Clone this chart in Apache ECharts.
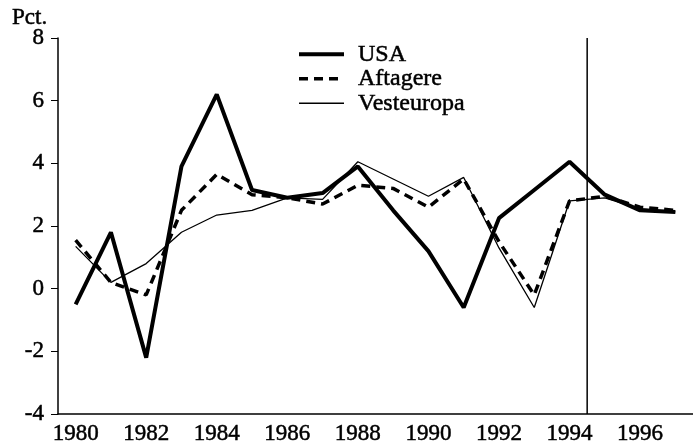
<!DOCTYPE html>
<html>
<head>
<meta charset="utf-8">
<script src="https://cdn.jsdelivr.net/npm/echarts@6/dist/echarts.min.js"></script>
<style>
  html, body { margin: 0; padding: 0; background: #fff; }
  #chart { width: 693px; height: 447px; }
</style>
</head>
<body>
<div id="chart"></div>
<script>
// 年份与三条曲线
const years = ['1980', '1981', '1982', '1983', '1984', '1985', '1986', '1987', '1988',
  '1989', '1990', '1991', '1992', '1993', '1994', '1995', '1996', '1997'];
const usa = [-0.5, 1.8, -2.2, 3.9, 6.2, 3.15, 2.9, 3.05, 3.9, 2.5, 1.2, -0.6, 2.25, 3.15, 4.05, 3.0, 2.5, 2.45];
const aftagere = [1.55, 0.2, -0.2, 2.5, 3.65, 3.0, 2.9, 2.7, 3.3, 3.2, 2.6, 3.5, 1.5, -0.2, 2.8, 2.95, 2.6, 2.5];
const vesteuropa = [1.35, 0.2, 0.8, 1.8, 2.35, 2.5, 2.9, 2.85, 4.05, 3.5, 2.95, 3.55, 1.3, -0.6, 2.8, 2.9, 2.55, 2.45];
const yTicks = [-4, -2, 0, 2, 4, 6, 8];
const forecastFrom = 1994.5; // 竖线：预测开始

window.onload = function () {
  init();
};

function init() {
  const chart = echarts.init(document.getElementById('chart'));
  const font = 'Liberation Serif';
  const ink = '#000';
  const yMin = yTicks[0];
  const yMax = yTicks[yTicks.length - 1];
  // 扫描件的字比较粗，描一圈边
  const heavy = { textBorderColor: ink, textBorderWidth: 0.5 };

  const option = {
    animation: false,
    grid: { left: 58, right: 0, top: 38, bottom: 33 },
    title: {
      text: 'Pct.',
      left: 12, top: 6, padding: 0,
      textStyle: Object.assign({ fontFamily: font, fontSize: 23, fontWeight: 'normal', color: ink }, heavy),
    },
    legend: {
      orient: 'vertical',
      left: 297, top: 42, padding: 0,
      itemWidth: 45, itemHeight: 14, itemGap: 0,
      textStyle: Object.assign({ fontFamily: font, fontSize: 24, color: ink, lineHeight: 24, padding: [0, 0, 0, 9] }, heavy),
      itemStyle: { opacity: 0 },
      data: [
        { name: 'USA', lineStyle: { width: 4, color: ink, type: 'solid' } },
        { name: 'Aftagere', lineStyle: { width: 3.5, color: ink, type: [9, 6] } },
        { name: 'Vesteuropa', lineStyle: { width: 1.3, color: ink, type: 'solid' } },
      ],
    },
    xAxis: [{
      type: 'category',
      data: years,
      boundaryGap: true,
      axisLine: { onZero: false, lineStyle: { color: ink, width: 1.5 } },
      axisTick: { interval: 0, length: 5, lineStyle: { color: ink } },
      axisLabel: Object.assign({ interval: 1, margin: 8, fontFamily: font, fontSize: 23, color: ink }, heavy),
      splitLine: { show: false },
    }, {
      type: 'value',
      min: 1979.5, max: 1997.5,
      show: false,
    }],
    yAxis: {
      type: 'value',
      min: yMin, max: yMax, interval: 2,
      axisLine: { show: true, lineStyle: { color: ink, width: 1.5 } },
      axisTick: { show: true, length: 7, lineStyle: { color: ink } },
      axisLabel: Object.assign({ margin: 14, fontFamily: font, fontSize: 23, color: ink }, heavy),
      splitLine: { show: false },
    },
    series: [{
      name: 'USA', type: 'line', data: usa, symbol: 'none',
      lineStyle: { color: ink, width: 4 }, z: 4,
    }, {
      name: 'Aftagere', type: 'line', data: aftagere, symbol: 'none',
      lineStyle: { color: ink, width: 3.5, type: [9, 6] }, z: 3,
    }, {
      name: 'Vesteuropa', type: 'line', data: vesteuropa, symbol: 'none',
      lineStyle: { color: ink, width: 1.3 }, z: 2,
    }, {
      name: 'forecast', type: 'line', xAxisIndex: 1,
      data: [[forecastFrom, yMin], [forecastFrom, yMax]], symbol: 'none',
      lineStyle: { color: ink, width: 1.5 }, z: 1,
    }],
  };

  chart.setOption(option);
}
</script>
</body>
</html>
